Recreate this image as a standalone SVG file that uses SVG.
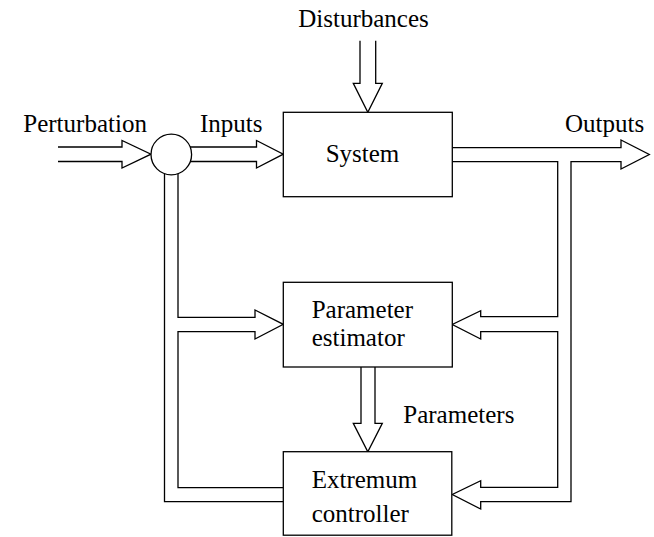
<svg xmlns="http://www.w3.org/2000/svg" width="654" height="537" viewBox="0 0 654 537">
<style>
.box{fill:#fff;stroke:#000;stroke-width:1.3}
.arr{fill:#fff;stroke:#000;stroke-width:1.3;stroke-linejoin:miter}
.ln{fill:none;stroke:#000;stroke-width:1.3}
text{font-family:"Liberation Serif","Times New Roman",serif;font-size:25px;fill:#000}
</style>
<rect width="654" height="537" fill="#fff"/>
<g id="connectors">
  <path class="arr" d="M58,147 H122 V140.5 L151,154.2 L122,168 V161.5 H58"/>
  <path class="arr" d="M190,147 H256.5 V140.5 L283.3,154.2 L256.5,168 V161.5 H190"/>
  <path class="arr" d="M360,40.7 V83.3 H353.3 L367.8,112.3 L382.3,83.3 H375.7 V40.7"/>
  <path class="arr" d="M452.3,147.7 H621 V140 L649.3,154.5 L621,169 V161.7 H571 V501.7 H480.7 V509 L452.3,494.5 L480.7,480.7 V487.3 H557.7 V331.7 H480.7 V339 L452.3,324.5 L480.7,310.7 V316.7 H557.7 V161.7 H452.3"/>
  <path class="ln" d="M164.5,174 V501.7 H283.3"/>
  <path class="arr" d="M178,174 V317.3 H255 V310 L283.3,324.3 L255,339 V331.7 H178 V487.7 H283.3"/>
  <path class="arr" d="M361,367 V423.3 H353.3 L367.8,451.7 L382.3,423.3 H375 V367"/>
</g>
<g id="sum">
  <circle class="box" cx="171.3" cy="154.5" r="20.3"/>
</g>
<g id="system">
  <rect class="box" x="283.3" y="112.3" width="169" height="84.4"/>
  <text x="362.5" y="161.5" text-anchor="middle">System</text>
</g>
<g id="estimator">
  <rect class="box" x="283.3" y="282.3" width="169" height="84.7"/>
  <text x="311.7" y="318.3">Parameter</text>
  <text x="311.7" y="346">estimator</text>
</g>
<g id="controller">
  <rect class="box" x="283.3" y="451.7" width="168.5" height="83.5"/>
  <text x="311.7" y="488.3">Extremum</text>
  <text x="311.7" y="521.7">controller</text>
</g>
<g id="labels">
  <text x="363.5" y="27" text-anchor="middle">Disturbances</text>
  <text x="23.3" y="132">Perturbation</text>
  <text x="200" y="132">Inputs</text>
  <text x="565" y="132">Outputs</text>
  <text x="403.3" y="423.3">Parameters</text>
</g>
</svg>
